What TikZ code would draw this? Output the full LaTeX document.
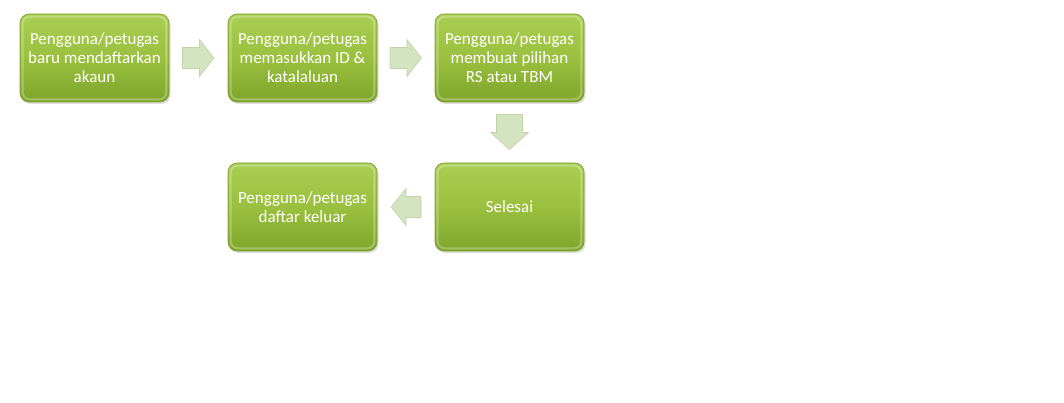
\documentclass[tikz,border=0pt]{standalone}
\usepackage{fontspec}
\setmainfont{Carlito}
\usetikzlibrary{shadows,calc}
\definecolor{boxtop}{HTML}{AACE50}
\definecolor{boxmid}{HTML}{9BC03F}
\definecolor{boxbot}{HTML}{7EA52A}
\definecolor{boxline}{HTML}{7A9E2C}
\definecolor{arrfill}{HTML}{D4E3C0}
\definecolor{arrline}{HTML}{C0D4A6}
\tikzset{
  stepbox/.style={draw=boxline, line width=0.6pt, rounded corners=9pt,
    top color=boxtop, bottom color=boxbot, middle color=boxmid,
    minimum width=149pt, minimum height=88pt, inner sep=2pt,
    align=center, text=white,
    font=\fontsize{17pt}{18.9pt}\selectfont,
    drop shadow={shadow xshift=1.5pt, shadow yshift=-2pt, opacity=0.25}},
  gloss/.style={draw=white, draw opacity=0.28, line width=2pt, rounded corners=7pt},
  blockarrow/.style={fill=arrfill, draw=arrline, line width=0.6pt, line join=miter}
}
\begin{document}
\begin{tikzpicture}[x=1pt,y=1pt]
\useasboundingbox (0,0) rectangle (1064,-403);
\node[stepbox] (b1) at (94.5,-58) {Pengguna/petugas\\baru mendaftarkan\\akaun};
\node[stepbox] (b2) at (302.5,-58) {Pengguna/petugas\\memasukkan ID \&\\katalaluan};
\node[stepbox] (b3) at (509.5,-58) {Pengguna/petugas\\membuat pilihan\\RS atau TBM};
\node[stepbox] (b4) at (509.5,-207) {Selesai};
\node[stepbox] (b5) at (302.5,-207) {Pengguna/petugas\\daftar keluar};
\foreach \n in {b1,b2,b3,b4,b5}{
  \draw[gloss] ($(\n.north west)+(3,-3)$) rectangle ($(\n.south east)+(-3,3)$);
}
% right arrow b1->b2
\coordinate (a1) at ($(b1.east)!0.5!(b2.west)$);
\draw[blockarrow] ($(a1)+(-16,-10.5)$) -- ++(17,0) -- ++(0,-8) -- ($(a1)+(15.5,0)$) -- ($(a1)+(1,18.5)$) -- ++(0,-8) -- ++(-17,0) -- cycle;
% right arrow b2->b3
\coordinate (a2) at ($(b2.east)!0.5!(b3.west)$);
\draw[blockarrow] ($(a2)+(-16,-10.5)$) -- ++(17,0) -- ++(0,-8) -- ($(a2)+(15.5,0)$) -- ($(a2)+(1,18.5)$) -- ++(0,-8) -- ++(-17,0) -- cycle;
% down arrow b3->b4
\coordinate (a3) at ($(b3.south)!0.5!(b4.north)$);
\draw[blockarrow] ($(a3)+(-13,18)$) -- ++(26,0) -- ++(0,-18) -- ++(6,0) -- ($(a3)+(0,-17)$) -- ($(a3)+(-19,0)$) -- ++(6,0) -- cycle;
% left arrow b4->b5
\coordinate (a4) at ($(b5.east)!0.5!(b4.west)$);
\draw[blockarrow] ($(a4)+(15,-10.5)$) -- ++(-15,0) -- ++(0,-8) -- ($(a4)+(-15,0)$) -- ($(a4)+(0,18.5)$) -- ++(0,-8) -- ++(15,0) -- cycle;
\end{tikzpicture}
\end{document}
